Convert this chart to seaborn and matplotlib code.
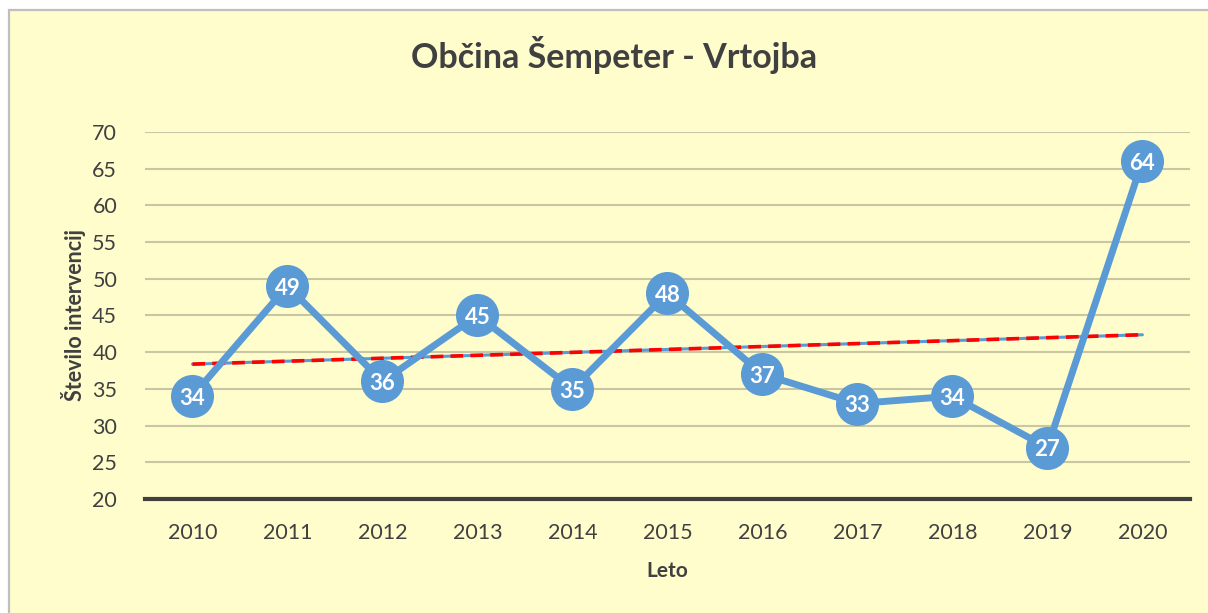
import numpy as np
import pandas as pd
import matplotlib.pyplot as plt
import seaborn as sns
from matplotlib.patches import Rectangle

# Podatki z grafa
years = ['2010', '2011', '2012', '2013', '2014', '2015', '2016', '2017', '2018', '2019', '2020']
interventions = [34, 49, 36, 45, 35, 48, 37, 33, 34, 27, 66]
point_labels = ['34', '49', '36', '45', '35', '48', '37', '33', '34', '27', '64']
y_ticks = [20, 25, 30, 35, 40, 45, 50, 55, 60, 65, 70]

df = pd.DataFrame({'Leto': years, 'Stevilo': interventions})
df['x'] = np.arange(len(df))

bg = '#FFFDCC'
blue = '#5B9BD5'
txt = '#404040'

sns.set_theme(style='white', context='notebook')
plt.rcParams['font.family'] = ['Lato', 'DejaVu Sans']

fig = plt.figure(figsize=(12.08, 6.13), dpi=100, facecolor='white')

# okvir z rumeno podlago
fig.patches.append(Rectangle((8.5 / 1208, -0.1), 1.2, 1.1 - 9.5 / 613,
                             transform=fig.transFigure, facecolor=bg,
                             edgecolor='#BFBFBF', linewidth=1.6, zorder=-10))

ax = fig.add_axes([0.120, 0.186, 0.865, 0.599])
ax.set_facecolor(bg)
ax.patch.set_alpha(0)

# linearni trend
slope, intercept = np.polyfit(df['x'], df['Stevilo'], 1)
df['trend'] = intercept + slope * df['x']
sns.lineplot(x='x', y='trend', data=df, color=blue, linewidth=2.2, ax=ax, zorder=2)
sns.lineplot(x='x', y='trend', data=df, color='#FF0000', linewidth=2.6,
             linestyle=(0, (3.5, 2)), ax=ax, zorder=3)

sns.lineplot(x='x', y='Stevilo', data=df, color=blue, linewidth=5,
             marker='o', markersize=31, markeredgewidth=0, ax=ax, zorder=4)

for i, (v, lab) in enumerate(zip(df['Stevilo'], point_labels)):
    ax.text(i, v - 0.3, lab, ha='center', va='center', color='white',
            fontsize=16, fontweight='bold', zorder=5)

ax.set_xlim(-0.5, len(years) - 0.5)
ax.set_ylim(20, 70)
ax.set_xticks(df['x'])
ax.set_xticklabels(years)
ax.set_yticks(y_ticks)
ax.tick_params(axis='both', length=0, labelsize=15.5, colors=txt)
ax.tick_params(axis='x', pad=17)
ax.tick_params(axis='y', pad=20)
ax.grid(axis='y', color='#C9C7A3', linewidth=1.5, zorder=0)
ax.set_axisbelow(True)
for s in ['top', 'right', 'left']:
    ax.spines[s].set_visible(False)
ax.spines['bottom'].set_color(txt)
ax.spines['bottom'].set_linewidth(3)

ax.set_xlabel('Leto', fontsize=15, fontweight='bold', color=txt)
ax.xaxis.set_label_coords(0.4995, -0.170)
ax.set_ylabel('Število intervencij', fontsize=15.5, fontweight='bold', color=txt)
ax.yaxis.set_label_coords(-0.056, 0.5)

fig.text(0.508, 0.91, 'Občina Šempeter - Vrtojba', ha='center', va='center',
         fontsize=24.5, fontweight='bold', color=txt)

fig.savefig('out.png', dpi=100, facecolor='white')
